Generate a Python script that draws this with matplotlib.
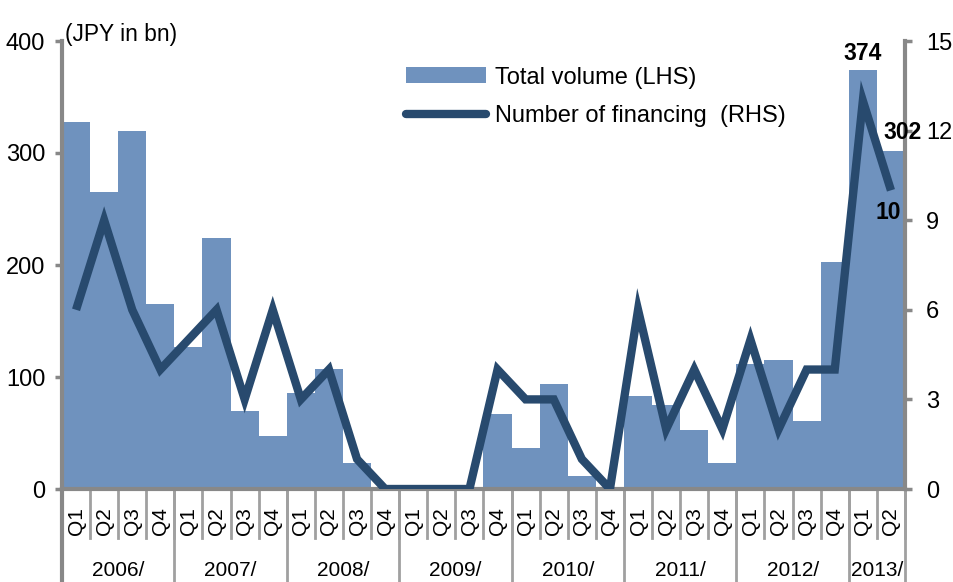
import matplotlib
matplotlib.use("Agg")
import matplotlib.pyplot as plt
import matplotlib.transforms as mtransforms
from matplotlib.patches import Patch
from matplotlib.lines import Line2D

plt.rcParams['font.family'] = ['Liberation Sans', 'DejaVu Sans']

years = ["2006/", "2007/", "2008/", "2009/", "2010/", "2011/", "2012/", "2013/"]
quarters = ["Q1", "Q2", "Q3", "Q4"] * 7 + ["Q1", "Q2"]
volume = [328, 265, 320, 165,
          127, 224, 70, 47,
          86, 107, 23, 0,
          0, 0, 0, 67,
          37, 94, 12, 0,
          83, 75, 53, 23,
          112, 115, 61, 203,
          374, 302]
count = [6, 9, 6, 4,
         5, 6, 3, 6,
         3, 4, 1, 0,
         0, 0, 0, 4,
         3, 3, 1, 0,
         6, 2, 4, 2,
         5, 2, 4, 4,
         13, 10]

bar_color = "#6f92be"
line_color = "#284a6e"
axis_gray = "#888888"
sep_gray = "#a0a0a0"
FS_TICK = 17
FS_CAT = 15
FS_LEG = 17
FS_NUM = 16.5

fig = plt.figure(figsize=(9.54, 5.82), dpi=100)
ax = fig.add_axes([62/954, 1-489/582, (905-62)/954, 448/582])
x = list(range(len(volume)))
ax.bar(x, volume, width=1.0, color=bar_color, edgecolor="none", zorder=1)
ax.set_xlim(-0.5, len(volume) - 0.5)
ax.set_ylim(0, 400)
ax.set_yticks([0, 100, 200, 300, 400])
ax.tick_params(axis='y', labelsize=FS_TICK, length=5, width=2.5, color=axis_gray, pad=7)
ax.set_xticks([])
for s in ["top", "right"]:
    ax.spines[s].set_visible(False)
for s in ["left", "bottom"]:
    ax.spines[s].set_color(axis_gray)
    ax.spines[s].set_linewidth(3)

ax2 = ax.twinx()
ax2.plot(x, count, color=line_color, lw=6, solid_joinstyle='miter', solid_capstyle='butt', zorder=3)
ax2.set_ylim(0, 15)
ax2.set_yticks([0, 3, 6, 9, 12, 15])
ax2.tick_params(axis='y', labelsize=FS_TICK, length=5, width=2.5, color=axis_gray, pad=10)
for s in ["top", "left", "bottom"]:
    ax2.spines[s].set_visible(False)
ax2.spines["right"].set_color(axis_gray)
ax2.spines["right"].set_linewidth(3)

# hierarchical x labels
trans = mtransforms.blended_transform_factory(ax.transData, ax.transAxes)
for i, q in enumerate(quarters):
    ax.text(i, -0.103, q, rotation=90, ha='center', va='bottom', fontsize=FS_CAT,
            transform=trans, clip_on=False)
for i in range(1, len(quarters) + 1):
    ax.plot([i - 0.5, i - 0.5], [0, -0.109], color=sep_gray, lw=2, transform=trans, clip_on=False)
starts = list(range(0, len(quarters), 4)) + [len(quarters)]
for k, yr in enumerate(years):
    a, b = starts[k] - 0.5, starts[k + 1] - 0.5
    ax.text((a + b) / 2, -0.183, yr, ha='center', va='center', fontsize=FS_CAT,
            transform=trans, clip_on=False)
for st in starts:
    ax.plot([st - 0.5, st - 0.5], [0, -0.22], color=axis_gray if st == 0 else sep_gray,
            lw=3 if st == 0 else 2, transform=trans, clip_on=False)

ax.text(0.003, 1.014, "(JPY in bn)", transform=ax.transAxes, fontsize=16.4, ha='left', va='center')

# annotations (drawn on top axes so they sit above the right spine)
ax2.annotate(f"{volume[28]}", xy=(28, volume[28]), xycoords=ax.transData, xytext=(0, 4),
             textcoords='offset points', ha='center', va='bottom', fontsize=FS_NUM,
             fontweight='bold', zorder=10)
ax2.annotate(f"{volume[29]}", xy=(29, volume[29]), xycoords=ax.transData, xytext=(8, 5),
             textcoords='offset points', ha='center', va='bottom', fontsize=FS_NUM,
             fontweight='bold', zorder=10)
ax2.annotate(f"{count[29]}", xy=(29, count[29]), xytext=(-2, -16), textcoords='offset points',
             ha='center', va='center', fontsize=FS_NUM, fontweight='bold', zorder=10)

handles = [Patch(facecolor=bar_color, edgecolor='none'),
           Line2D([0], [0], color=line_color, lw=6, solid_capstyle='round')]
leg = ax2.legend(handles, ["Total volume (LHS)", "Number of financing  (RHS)"],
                 loc='upper left', bbox_to_anchor=(0.408, 0.943), frameon=False, fontsize=FS_LEG,
                 handlelength=3.4, handleheight=0.64, handletextpad=0.38, labelspacing=0.7,
                 borderaxespad=0, borderpad=0)

fig.savefig("out.png", dpi=100)
